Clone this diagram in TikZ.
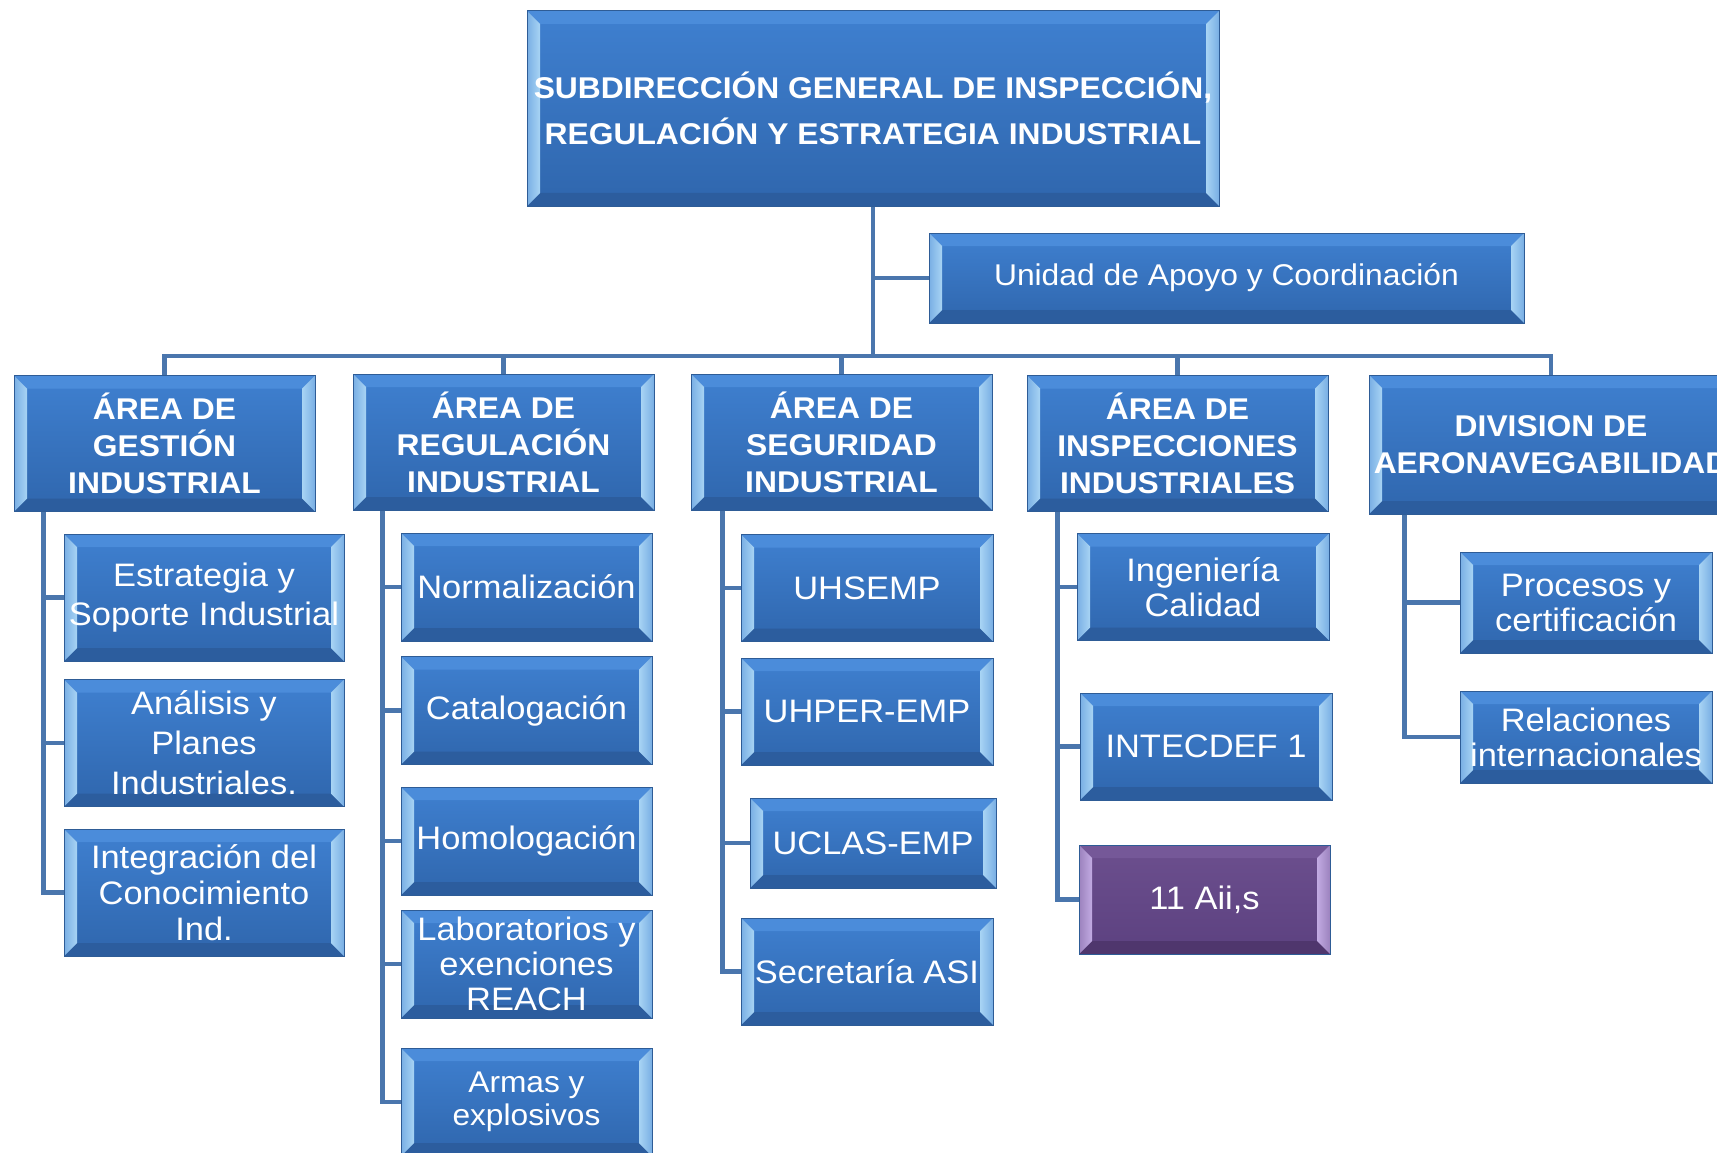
\documentclass[tikz,border=0pt]{standalone}
\usepackage{fontspec}
\setmainfont{Liberation Sans}[FakeStretch=1.06]
\usepackage{xcolor}
\usepackage{tikz}
\usetikzlibrary{positioning}
\definecolor{linea}{HTML}{4A76AD}
\definecolor{borde}{HTML}{2E5C96}
\definecolor{azul1}{HTML}{3F80D0}
\definecolor{azul2}{HTML}{2F66AD}
\definecolor{azulclaro}{HTML}{A8D4F4}
\definecolor{azulsup}{HTML}{4B8CDA}
\definecolor{azulinf}{HTML}{2C5D9E}
\definecolor{lila1}{HTML}{6C4F8E}
\definecolor{lila2}{HTML}{5C4180}
\definecolor{lilaclaro}{HTML}{C2ABE3}
\definecolor{lilasup}{HTML}{755898}
\definecolor{lilainf}{HTML}{4F366D}
\tikzset{conn/.style = {draw=linea, line width=4.5pt}}
\tikzset{bevel/.style n args={4}{path picture={
  \def\pp{path picture bounding box}
  \fill[#3] (\pp.north west) -- (\pp.north east) -- ([xshift=-13pt,yshift=-13pt]\pp.north east) -- ([xshift=13pt,yshift=-13pt]\pp.north west) -- cycle;
  \fill[#4] (\pp.south west) -- (\pp.south east) -- ([xshift=-13pt,yshift=13pt]\pp.south east) -- ([xshift=13pt,yshift=13pt]\pp.south west) -- cycle;
  \shade[left color=#1!55!#2, right color=#1] (\pp.north west) -- ([xshift=13pt,yshift=-13pt]\pp.north west) -- ([xshift=13pt,yshift=13pt]\pp.south west) -- (\pp.south west) -- cycle;
  \shade[left color=#1, right color=#1!55!#2] (\pp.north east) -- ([xshift=-13pt,yshift=-13pt]\pp.north east) -- ([xshift=-13pt,yshift=13pt]\pp.south east) -- (\pp.south east) -- cycle;
}}}

\begin{document}
\begin{tikzpicture}[x=1pt, y=-1pt,
  box/.style={rectangle, draw=borde, line width=1pt, inner sep=2pt, align=center, text=white,
    top color=azul1, bottom color=azul2, bevel={azulclaro}{azul1}{azulsup}{azulinf}},
  area/.style={box, minimum width=301pt, minimum height=136pt, font=\bfseries\fontsize{30}{37}\selectfont},
  sub/.style={box, minimum width=252pt, minimum height=107pt, font=\fontsize{32.5}{35}\selectfont},
  lila/.style={top color=lila1, bottom color=lila2, bevel={lilaclaro}{lila1}{lilasup}{lilainf}}]
  \useasboundingbox (0,0) rectangle (1717,1153);
  \clip (0,0) rectangle (1717,1153);

  \node[box, minimum width=692pt, minimum height=195pt, font=\bfseries\fontsize{30}{46}\selectfont] (0) at (873,108.5)
    {SUBDIRECCIÓN GENERAL DE INSPECCIÓN,\\REGULACIÓN Y ESTRATEGIA INDUSTRIAL};
  \node[box, minimum width=595pt, minimum height=90pt, font=\fontsize{30}{33}\selectfont] (6) at (1226.5,278)
    {Unidad de Apoyo y Coordinación};

  \node[area] (1) at (164.5,443.5) {ÁREA DE\\GESTIÓN\\INDUSTRIAL};
  \node[area] (2) at (503.5,442) {ÁREA DE\\REGULACIÓN\\INDUSTRIAL};
  \node[area] (3) at (841.5,442) {ÁREA DE\\SEGURIDAD\\INDUSTRIAL};
  \node[area] (4) at (1177.5,443.5) {ÁREA DE\\INSPECCIONES\\INDUSTRIALES};
  \node[area, minimum width=364pt, minimum height=139pt] (5) at (1551,444.5) {DIVISION DE\\AERONAVEGABILIDAD};

  % gestion
  \node[sub, minimum width=280pt, minimum height=127pt, font=\fontsize{32.5}{39}\selectfont] (11) at (204,597.5) {Estrategia y\\Soporte Industrial};
  \node[sub, minimum width=280pt, minimum height=127pt, font=\fontsize{32.5}{40}\selectfont] (12) at (204,743) {Análisis y\\Planes\\Industriales.};
  \node[sub, minimum width=280pt, minimum height=127pt, font=\fontsize{32.5}{36}\selectfont] (13) at (204,892.5) {Integración del\\Conocimiento\\Ind.};
  % regulacion
  \node[sub, minimum width=251pt, minimum height=108pt] (21) at (526.5,587) {Normalización};
  \node[sub, minimum width=251pt, minimum height=108pt] (22) at (526.5,710.5) {Catalogación};
  \node[sub, minimum width=251pt, minimum height=108pt] (23) at (526.5,841) {Homologación};
  \node[sub, minimum width=251pt, minimum height=108pt] (24) at (526.5,964) {Laboratorios y\\exenciones\\REACH};
  \node[sub, minimum width=251pt, minimum height=108pt, font=\fontsize{29.9}{33}\selectfont] (25) at (526.5,1102) {Armas y\\explosivos};
  % seguridad
  \node[sub] (31) at (867,588) {UHSEMP};
  \node[sub] (32) at (867,711.5) {UHPER-EMP};
  \node[sub, minimum width=246pt, minimum height=90pt] (33) at (873,843) {UCLAS-EMP};
  \node[sub] (34) at (867,971.5) {Secretaría ASI};
  % inspecciones
  \node[sub] (41) at (1203,587) {Ingeniería\\Calidad};
  \node[sub] (42) at (1206,746.5) {INTECDEF 1};
  \node[sub, lila, minimum width=251pt, minimum height=109pt] (43) at (1204.5,899.5) {11 Aii,s};
  % aeronavegabilidad
  \node[sub, minimum height=101pt] (51) at (1586,602.5) {Procesos y\\certificación};
  \node[sub, minimum height=92pt] (52) at (1586,737) {Relaciones\\internacionales};

  \coordinate (bus) at (873,356);
  \draw[conn] (0.south) -- (bus);
  \draw[conn] (0.south |- 6.west) -- (6.west);
  \draw[conn] (1.north) |- (bus) -| (5.north);
  \foreach \n in {2,3,4}
    \draw[conn] (\n.north) -- (\n.north |- bus);

  \foreach \c in {11,12,13}
    \draw[conn] ([xshift=30pt]1.south west) |- (\c.west);
  \foreach \c in {21,...,25}
    \draw[conn] ([xshift=30pt]2.south west) |- (\c.west);
  \foreach \c in {31,...,34}
    \draw[conn] ([xshift=32pt]3.south west) |- (\c.west);
  \foreach \c in {41,42,43}
    \draw[conn] ([xshift=31pt]4.south west) |- (\c.west);
  \foreach \c in {51,52}
    \draw[conn] ([xshift=36pt]5.south west) |- (\c.west);
\end{tikzpicture}
\end{document}
